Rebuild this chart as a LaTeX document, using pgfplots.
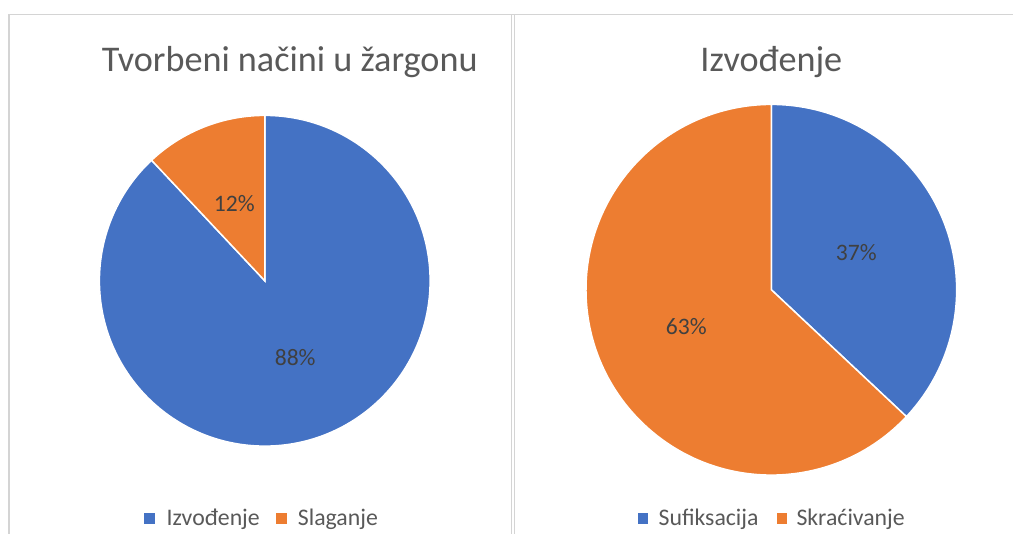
\documentclass[border=0pt]{standalone}
\usepackage{pgfplots}
\usepackage{pgfplotstable}
\pgfplotsset{compat=1.18}
\usepackage{fontspec}
\setmainfont{Carlito}
\definecolor{pieblue}{HTML}{4472C4}
\definecolor{pieorange}{HTML}{ED7D31}
\definecolor{titlegray}{HTML}{595959}
\definecolor{labelgray}{HTML}{404040}
\definecolor{framegray}{HTML}{D4D4D4}

\pgfplotstableread{
name value
Izvođenje 88
Slaganje 12
}\pieA
\pgfplotstableread{
name value
Sufiksacija 37
Skraćivanje 63
}\pieB

% table, cx, cy, r  (pixel-like axis units, y pointing down)
\newcommand\drawpie[4]{%
  \pgfplotstablegetrowsof{#1}%
  \pgfmathtruncatemacro\pielast{\pgfplotsretval-1}%
  \gdef\piecum{0}%
  \foreach \k in {0,...,\pielast}{%
    \pgfplotstablegetelem{\k}{value}\of{#1}%
    \pgfmathsetmacro\va{\pgfplotsretval}%
    \pgfmathtruncatemacro\vi{\va}%
    \pgfmathsetmacro\aS{90-3.6*\piecum}%
    \pgfmathsetmacro\aE{90-3.6*(\piecum+\va)}%
    \pgfmathsetmacro\aM{(\aS+\aE)/2}%
    \ifnum\k=0 \def\col{pieblue}\else\def\col{pieorange}\fi
    \fill[\col, draw=white, line width=1.5bp] (axis cs:#2,#3) -- ++(\aS:#4bp)
      arc[start angle=\aS, end angle=\aE, radius=#4bp] -- cycle;
    \pgfmathsetmacro\lx{#2+0.5*#4*cos(\aM)}%
    \pgfmathsetmacro\ly{#3-0.5*#4*sin(\aM)}%
    \node[text=labelgray, font=\fontsize{23.6bp}{28bp}\selectfont, inner sep=0pt]
      at (axis cs:\lx,\ly) {\vi\%};
    \pgfmathsetmacro\newcum{\piecum+\va}%
    \xdef\piecum{\newcum}%
  }%
}

\begin{document}
\begin{tikzpicture}
\begin{axis}[
  width=1014bp, height=534bp, scale only axis,
  xmin=0, xmax=1014, ymin=0, ymax=534,
  y dir=reverse, hide axis, clip=false,
]
\addplot[draw=none, forget plot] coordinates {(0,0) (1014,534)};
\pgfplotsextra{%
  \fill[white] (axis cs:0,0) rectangle (axis cs:1014,534);
  % frames
  \draw[framegray, line width=1.8bp] (axis cs:9,534) -- (axis cs:9,14.5) -- (axis cs:1014,14.5);
  \draw[framegray, line width=1.8bp] (axis cs:512,14.5) -- (axis cs:512,534);
  \draw[framegray, line width=1.8bp] (axis cs:515,14.5) -- (axis cs:515,534);
  % titles
  \node[anchor=base, text=titlegray, font=\fontsize{36.2bp}{43bp}\selectfont, inner sep=0pt]
    at (axis cs:290,72) {Tvorbeni načini u žargonu};
  \node[anchor=base, text=titlegray, font=\fontsize{36.2bp}{43bp}\selectfont, inner sep=0pt]
    at (axis cs:772,72) {Izvođenje};
  % pies
  \drawpie{\pieA}{265}{281}{165.5}
  \drawpie{\pieB}{772}{290}{185.5}
  % legends
  \fill[pieblue] (axis cs:144.5,513.5) rectangle (axis cs:155,524);
  \node[anchor=base west, text=titlegray, font=\fontsize{23.8bp}{28bp}\selectfont, inner sep=0pt]
    at (axis cs:166.5,526) {Izvođenje};
  \fill[pieorange] (axis cs:276.5,513.5) rectangle (axis cs:287,524);
  \node[anchor=base west, text=titlegray, font=\fontsize{23.8bp}{28bp}\selectfont, inner sep=0pt]
    at (axis cs:298,526) {Slaganje};
  \fill[pieblue] (axis cs:638.5,513.5) rectangle (axis cs:649,524);
  \node[anchor=base west, text=titlegray, font=\fontsize{23.8bp}{28bp}\selectfont, inner sep=0pt]
    at (axis cs:659,526) {Sufiksacija};
  \fill[pieorange] (axis cs:777.5,513.5) rectangle (axis cs:788,524);
  \node[anchor=base west, text=titlegray, font=\fontsize{23.8bp}{28bp}\selectfont, inner sep=0pt]
    at (axis cs:797,526) {Skraćivanje};
}
\end{axis}
\end{tikzpicture}
\end{document}
